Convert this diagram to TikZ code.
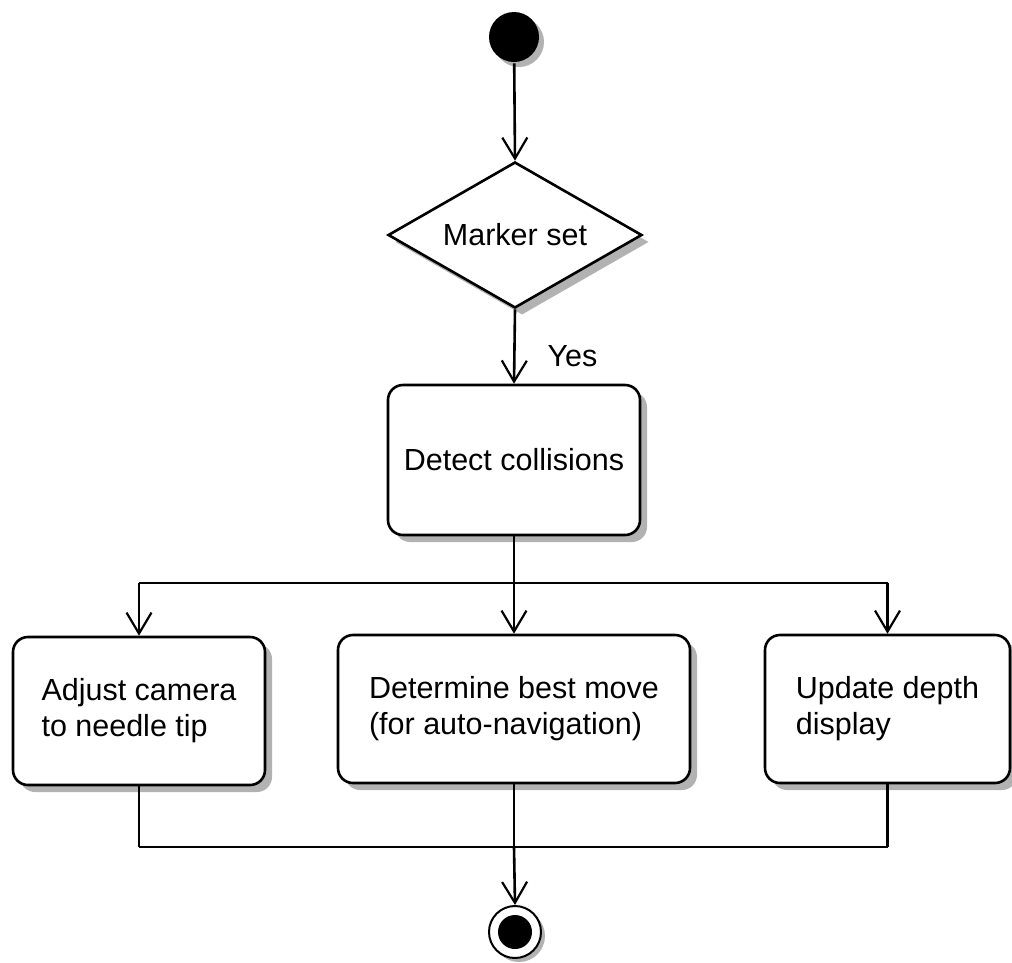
\documentclass[tikz,border=0pt]{standalone}
\usepackage{fontspec}
\setmainfont{Liberation Sans}
\usetikzlibrary{arrows.meta,shapes.geometric,shadows}

\begin{document}
\begin{tikzpicture}[x=1pt,y=-1pt,
  line width=2.6pt,
  flow/.style={-{Straight Barb[length=21pt,width=25pt,line width=2.2pt]}},
  shade/.style={drop shadow={shadow xshift=7pt,shadow yshift=-7pt,fill=gray!60,opacity=1}},
  label font/.style={font=\fontsize{30.5}{36}\selectfont},
  activity/.style={draw,fill=white,rounded corners=15pt,shade,label font,
    align=left,inner sep=0pt},
  decision/.style={draw,fill=white,diamond,aspect=1.74,shade,label font,
    minimum width=254pt,minimum height=146pt,inner sep=0pt},
  startnode/.style={circle,fill=black,minimum size=50pt,inner sep=0pt,
    drop shadow={shadow xshift=5pt,shadow yshift=-5pt,fill=gray!60,opacity=1}},
  endring/.style={circle,draw,fill=white,line width=2pt,minimum size=52pt,inner sep=0pt,
    drop shadow={shadow xshift=4pt,shadow yshift=-4pt,fill=gray!60,opacity=1}},
]
\useasboundingbox (0,0) rectangle (1012,962);

% nodes of the activity flow
\node[startnode] (start) at (514,37) {};
\node[decision] (marker) at (515,235) {Marker set};
\node[activity,minimum width=252pt,minimum height=150pt] (detect) at (514,460) {Detect collisions};

\node[activity,minimum width=252pt,minimum height=148pt] (camera) at (139,711)
  {Adjust camera\\to needle tip};
\node[activity,minimum width=352pt,minimum height=148pt] (move) at (514,709)
  {Determine best move\\(for auto-navigation)};
\node[activity,minimum width=245pt,minimum height=148pt] (depth) at (887.5,709)
  {Update depth\\display};

\node[endring] (finish) at (515,932) {};
\fill (finish.center) circle (17pt);

% fork and join points
\coordinate (fork) at (514,583);
\coordinate (forkL) at (139,583);
\coordinate (forkR) at (887.5,583);
\coordinate (join) at (514,847);
\coordinate (joinL) at (139,847);
\coordinate (joinR) at (887.5,847);

% connectors
\draw[flow] (start) -- (marker.north);
\draw[flow] (marker.south) -- (detect.north);
\node[label font,anchor=west] (yes) at (543,356) {Yes};

\draw (detect.south) -- (fork);
\draw (forkL) -- (forkR);
\draw[flow] (forkL) -- (camera.north);
\draw[flow] (fork) -- (move.north);
\draw[flow] (forkR) -- (depth.north);

\draw (camera.south) -- (joinL);
\draw (move.south) -- (join);
\draw (depth.south) -- (joinR);
\draw (joinL) -- (joinR);
\draw[flow] (join) -- (finish.north);
\end{tikzpicture}
\end{document}
